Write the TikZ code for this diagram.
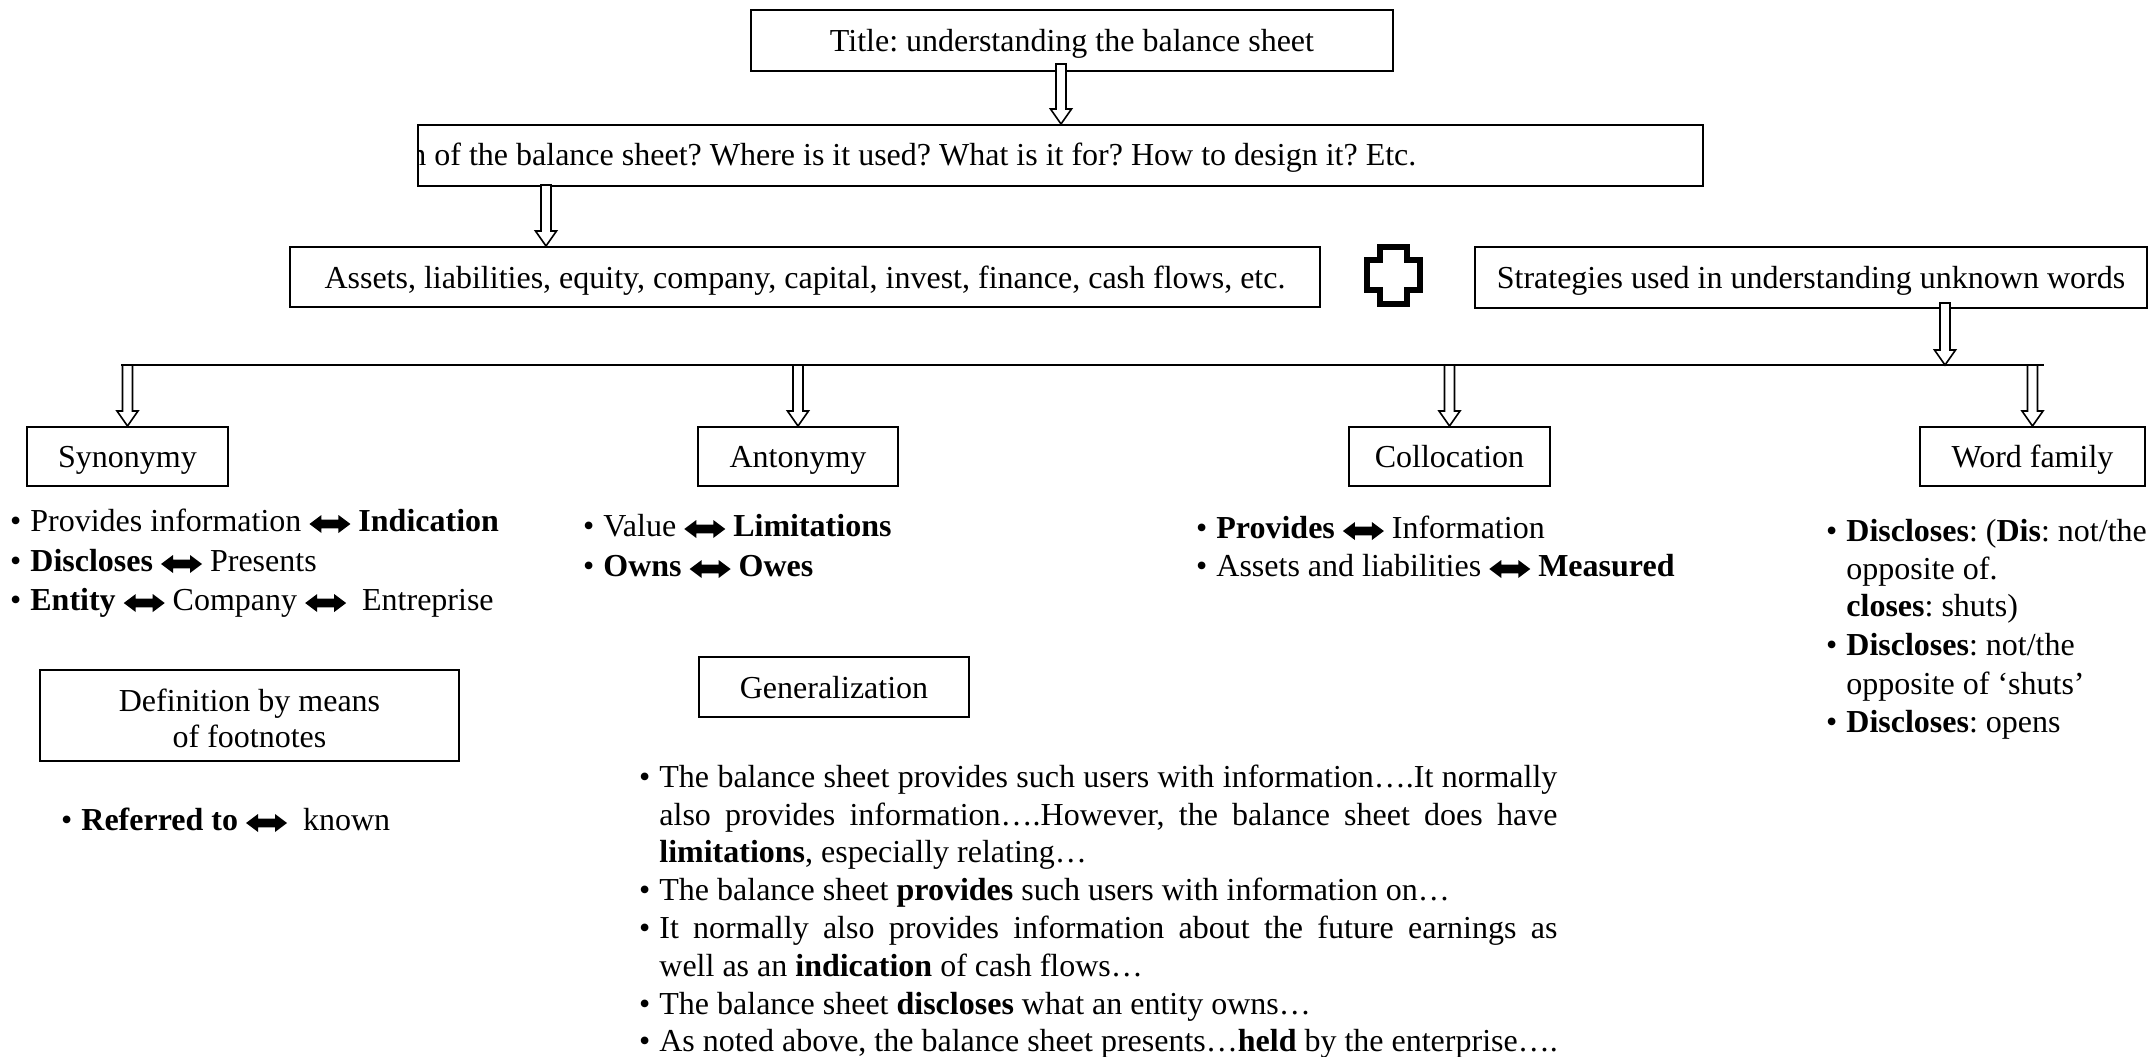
\documentclass[tikz,border=0pt]{standalone}
\usepackage{fontspec}
\setmainfont{Liberation Serif}
\usetikzlibrary{calc}
\tikzset{
  box/.style={draw, line width=1pt, inner sep=0pt, align=center, text height=11pt, text depth=0pt, font=\fontsize{16}{20}\selectfont},
  plainbox/.style={draw, line width=1pt, inner sep=0pt},
  ln/.style={anchor=base west, inner sep=0pt, font=\fontsize{16}{20}\selectfont},
  arrowline/.style={draw, fill=white, line width=0.8pt, line join=miter},
  hline/.style={line width=1.1pt},
  crossline/.style={line width=3pt, line join=miter},
}
\newsavebox\dblbox
\newcommand\dblarr{\usebox\dblbox}
\newcommand\bul{\llap{\textbullet\hspace{4.5pt}}}
\newcommand\pp[2]{\pgfpathlineto{\pgfpoint{#1}{#2}}}
\newcommand\blockarr[2]{\path[arrowline] let \p1=#1, \p2=#2 in
  (\x1-2.5pt,\y1) -- (\x1-2.5pt,\y2+7.5pt) -- (\x1-5.25pt,\y2+7.5pt) -- (\x1,\y2) --
  (\x1+5.25pt,\y2+7.5pt) -- (\x1+2.5pt,\y2+7.5pt) -- (\x1+2.5pt,\y1) -- cycle;}
\begin{document}
\frenchspacing
\sbox\dblbox{\raisebox{-1pt}{\begin{pgfpicture}%
  \pgfpathmoveto{\pgfpoint{0pt}{0pt}}%
  \pp{6pt}{4.5pt}\pp{6pt}{2.2pt}\pp{14.5pt}{2.2pt}\pp{14.5pt}{4.5pt}%
  \pp{20.5pt}{0pt}\pp{14.5pt}{-4.5pt}\pp{14.5pt}{-2.2pt}\pp{6pt}{-2.2pt}\pp{6pt}{-4.5pt}%
  \pgfpathclose\pgfusepath{fill}%
\end{pgfpicture}}}%
\begin{tikzpicture}[x=0.5pt,y=-0.5pt]
\useasboundingbox (0,0) rectangle (2149,1056);

% top boxes
\node[box, minimum width=321pt, minimum height=30.5pt] (title) at (1072,40.5) {Title: understanding the balance sheet};
\node[plainbox, minimum width=642.5pt, minimum height=30.5pt] (quest) at (1060.5,155.5) {};
\begin{scope}
  \clip (quest.south west) rectangle (quest.north east);
  \node[ln] (questtext) at (410,165) {n of the balance sheet? Where is it used? What is it for? How to design it? Etc.};
\end{scope}
\node[box, minimum width=515pt, minimum height=30pt] (assets) at (805,277) {Assets, liabilities, equity, company, capital, invest, finance, cash flows, etc.};
\node[box, minimum width=336pt, minimum height=30.5pt] (strat) at (1811,277.5) {Strategies used in understanding unknown words};

% plus sign
\draw[crossline] (1380,247) -- (1407,247) -- (1407,260) -- (1420,260) -- (1420,290) -- (1407,290) -- (1407,304) -- (1380,304) -- (1380,290) -- (1367,290) -- (1367,260) -- (1380,260) -- cycle;

% horizontal bar
\coordinate (hlL) at (121,365);
\coordinate (hlR) at (2044,365);
\draw[hline] (hlL) -- (hlR);

% strategy boxes
\node[box, minimum width=100.5pt, minimum height=29.5pt] (syn) at (127.5,456.5) {Synonymy};
\node[box, minimum width=100pt, minimum height=29.5pt] (ant) at (798,456.5) {Antonymy};
\node[box, minimum width=100.5pt, minimum height=29.5pt] (col) at (1449.5,456.5) {Collocation};
\node[box, minimum width=112.5pt, minimum height=29.5pt] (wf) at (2032.5,456.5) {Word family};
\node[plainbox, minimum width=209.5pt, minimum height=45.5pt] (def) at (249.5,715.5) {};
\node[inner sep=0pt, align=center, font=\fontsize{16}{18}\selectfont] (deftext) at ($(def.center)+(0,3)$) {Definition by means\\of footnotes};
\node[box, minimum width=135pt, minimum height=30pt] (gen) at (834,687) {Generalization};

% arrows
\blockarr{($(title.south)+(-11,-8)$)}{(quest.north)}
\blockarr{($(quest.south)+(-514.5,-2)$)}{(assets.north)}
\blockarr{($(strat.south)+(134,-6)$)}{(hlR)}
\blockarr{(syn.north |- hlL)}{(syn.north)}
\blockarr{(ant.north |- hlL)}{(ant.north)}
\blockarr{(col.north |- hlL)}{(col.north)}
\blockarr{(wf.north |- hlL)}{(wf.north)}

% synonymy list
\node[ln] (s1) at (30,531) {\bul Provides information \dblarr{} \textbf{Indication}};
\node[ln] (s2) at (30,571) {\bul \textbf{Discloses} \dblarr{} Presents};
\node[ln] (s3) at (30,610) {\bul \textbf{Entity} \dblarr{} Company \dblarr{}\ \ Entreprise};

% antonymy list
\node[ln] (a1) at (603,536) {\bul Value \dblarr{} \textbf{Limitations}};
\node[ln] (a2) at (603,576) {\bul \textbf{Owns} \dblarr{} \textbf{Owes}};

% collocation list
\node[ln] (c1) at (1216,538) {\bul \textbf{Provides} \dblarr{} Information};
\node[ln] (c2) at (1216,576) {\bul Assets and liabilities \dblarr{} \textbf{Measured}};

% word family list
\node[ln] (w1) at (1846,541) {\bul \textbf{Discloses}: (\textbf{Dis}: not/the};
\node[ln] (w2) at (1846,579) {opposite of.};
\node[ln] (w3) at (1846,616) {\textbf{closes}: shuts)};
\node[ln] (w4) at (1846,655) {\bul \textbf{Discloses}: not/the};
\node[ln] (w5) at (1846,694) {opposite of ‘shuts’};
\node[ln] (w6) at (1846,732) {\bul \textbf{Discloses}: opens};

% footnote definition list
\node[ln] (d1) at (81,830) {\bul \textbf{Referred to} \dblarr{}\ \ known};

% generalization list
\node[ln] (g1) at (659,787) {\bul\makebox[449pt][s]{The balance sheet provides such users with information….It normally}};
\node[ln] (g2) at (659,825) {\makebox[449pt][s]{also provides information….However, the balance sheet does have}};
\node[ln] (g3) at (659,862) {\textbf{limitations}, especially relating…};
\node[ln] (g4) at (659,900) {\bul The balance sheet \textbf{provides} such users with information on…};
\node[ln] (g5) at (659,938) {\bul\makebox[449pt][s]{It normally also provides information about the future earnings as}};
\node[ln] (g6) at (659,976) {well as an \textbf{indication} of cash flows…};
\node[ln] (g7) at (659,1014) {\bul The balance sheet \textbf{discloses} what an entity owns…};
\node[ln] (g8) at (659,1051) {\bul As noted above, the balance sheet presents…\textbf{held} by the enterprise….};
\end{tikzpicture}
\end{document}
